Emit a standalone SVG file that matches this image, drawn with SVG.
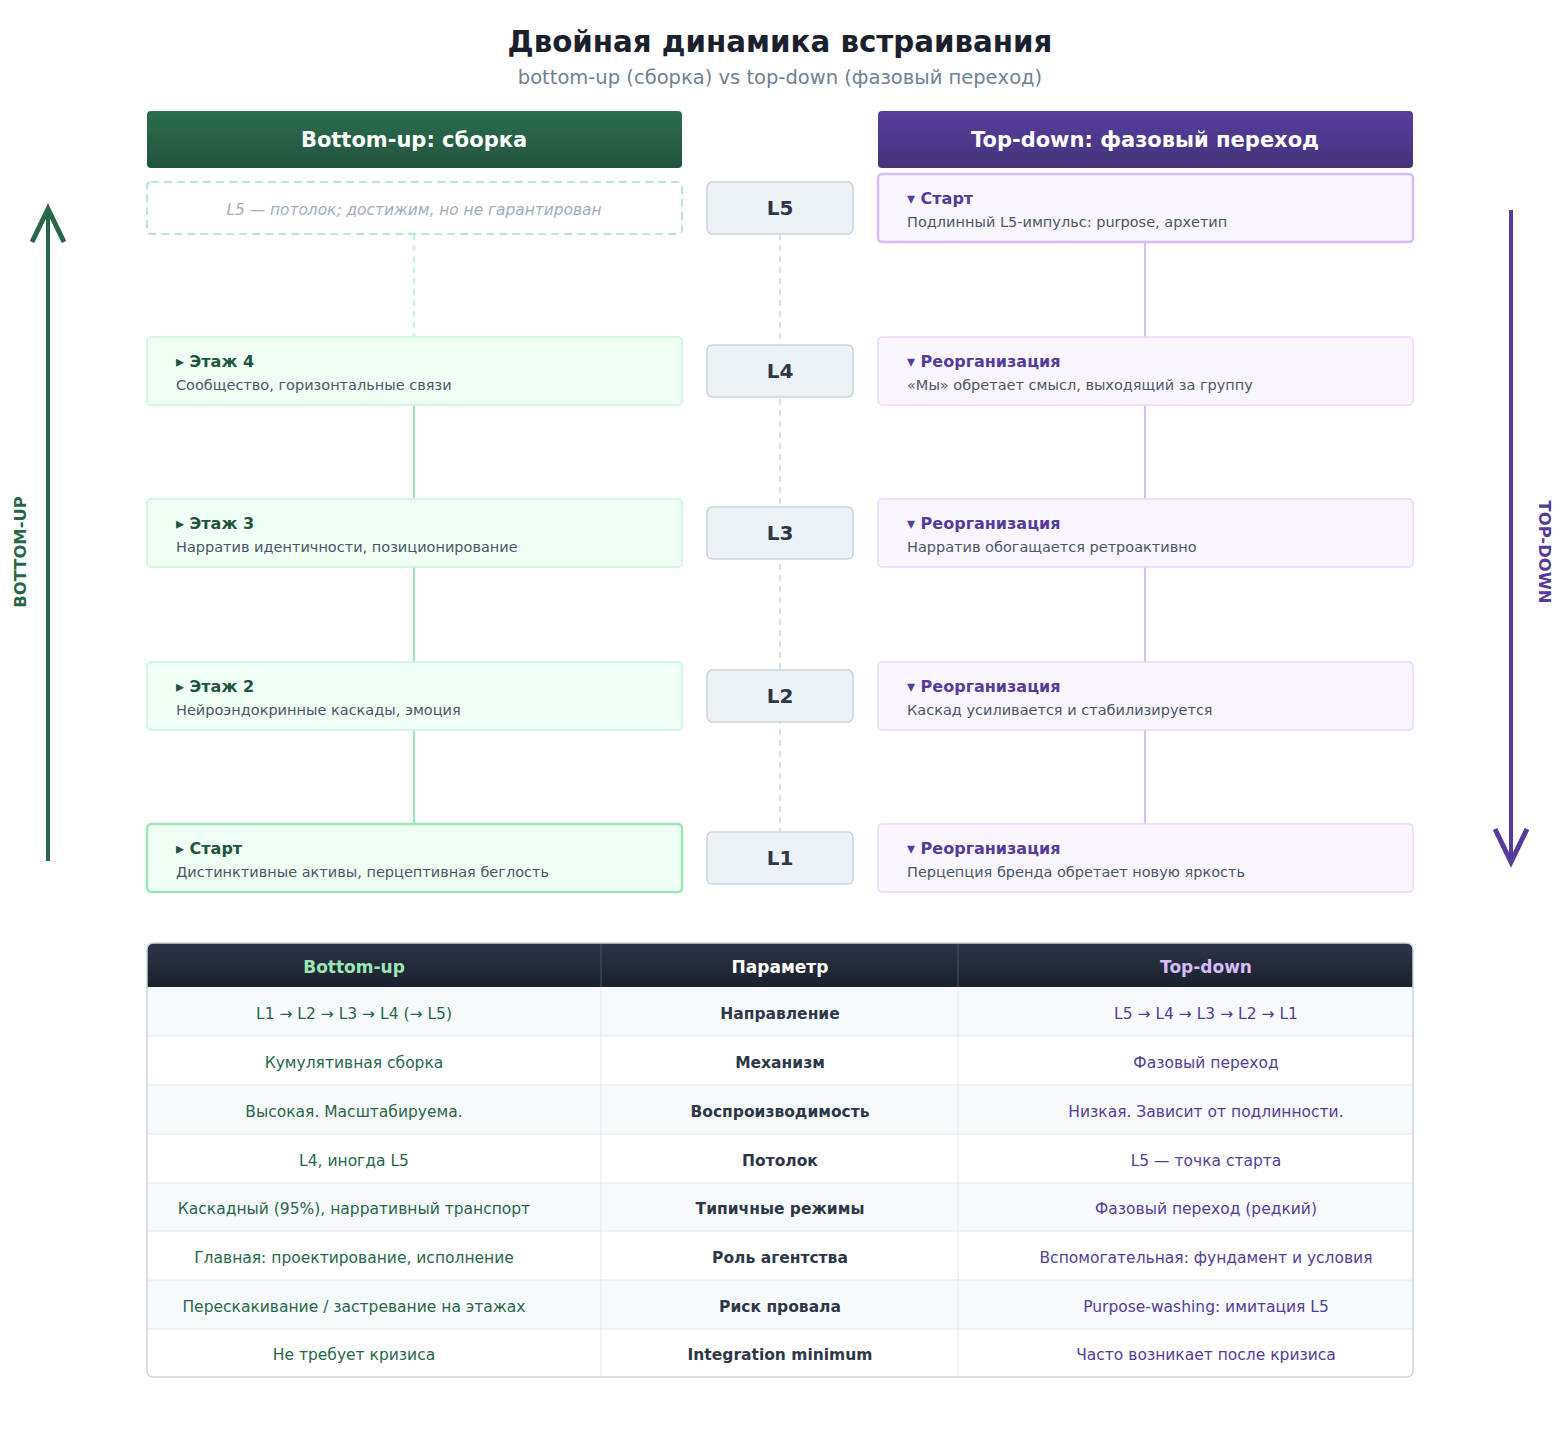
<svg xmlns="http://www.w3.org/2000/svg" width="1560" height="1430" viewBox="0 0 1560 1430">
  <defs>
    <linearGradient id="gGreen" x1="0" y1="0" x2="0" y2="1">
      <stop offset="0" stop-color="#2b6d4f"/>
      <stop offset="1" stop-color="#22543d"/>
    </linearGradient>
    <linearGradient id="gPurple" x1="0" y1="0" x2="0" y2="1">
      <stop offset="0" stop-color="#583e9e"/>
      <stop offset="1" stop-color="#44337a"/>
    </linearGradient>
    <linearGradient id="gDark" x1="0" y1="0" x2="0" y2="1">
      <stop offset="0" stop-color="#2d3748"/>
      <stop offset="1" stop-color="#1a202c"/>
    </linearGradient>
    <clipPath id="tableClip">
      <rect x="147" y="943" width="1266" height="434" rx="6"/>
    </clipPath>
  </defs>
  <style>
    text { font-family: "DejaVu Sans", "Noto Sans", sans-serif; }
    .title { font-size: 29.3px; font-weight: bold; fill: #1a202c; text-anchor: middle; }
    .subtitle { font-size: 19.5px; fill: #718096; text-anchor: middle; }
    .colhead { font-size: 21px; font-weight: bold; fill: #ffffff; text-anchor: middle; }
    .lvl rect { fill: #edf2f7; stroke: #cbd5e0; stroke-width: 1.5; }
    .lvl text { font-size: 20px; font-weight: bold; fill: #2d3748; text-anchor: middle; }
    .bu rect { fill: #f0fff4; stroke: #c6f6d5; stroke-width: 1.5; }
    .bu .start { stroke: #9ae6b4; stroke-width: 2.5; }
    .bu .h { font-size: 16px; font-weight: bold; fill: #22543d; }
    .td rect { fill: #faf5ff; stroke: #e9d8fd; stroke-width: 1.5; }
    .td .start { stroke: #d6bcfa; stroke-width: 2.5; }
    .td .h { font-size: 16px; font-weight: bold; fill: #553c9a; }
    .d { font-size: 14.5px; fill: #4a5568; }
    .ceil { fill: #ffffff; stroke: #9ae6b4; stroke-width: 1.5; stroke-dasharray: 8 5; }
    .ceiltxt { font-size: 15.4px; font-style: italic; fill: #a0aec0; text-anchor: middle; }
    .lnG { stroke: #9ae6b4; stroke-width: 2; fill: none; }
    .lnGd { stroke: #c6f6d5; stroke-width: 2; stroke-dasharray: 6 5; fill: none; }
    .lnP { stroke: #d6bcfa; stroke-width: 2; fill: none; }
    .lnC { stroke: #cbd5e0; stroke-width: 1.5; stroke-dasharray: 6 5; fill: none; }
    .axis { font-size: 16.4px; font-weight: bold; text-anchor: middle; }
    .th { font-size: 17px; font-weight: bold; text-anchor: middle; }
    .tc { font-size: 15.5px; text-anchor: middle; }
    .cl { fill: #276749; }
    .cm { fill: #2d3748; font-weight: bold; }
    .cr { fill: #553c9a; }
    .rowA { fill: #f7fafc; }
    .rowB { fill: #ffffff; }
    .sep { stroke: #e2e8f0; stroke-width: 1; }
  </style>

  <rect width="1560" height="1430" fill="#ffffff"/>

  <!-- Heading -->
  <text class="title" x="780" y="52">Двойная динамика встраивания</text>
  <text class="subtitle" x="780" y="84">bottom-up (сборка) vs top-down (фазовый переход)</text>

  <!-- Column headers -->
  <g id="head-bu">
    <rect x="147" y="111" width="535" height="57" rx="4" fill="url(#gGreen)"/>
    <text class="colhead" x="414" y="147">Bottom-up: сборка</text>
  </g>
  <g id="head-td">
    <rect x="878" y="111" width="535" height="57" rx="4" fill="url(#gPurple)"/>
    <text class="colhead" x="1145" y="147">Top-down: фазовый переход</text>
  </g>

  <!-- Connectors -->
  <g id="connectors">
    <line class="lnC" x1="780" y1="234" x2="780" y2="832"/>
    <line class="lnGd" x1="414" y1="234" x2="414" y2="337"/>
    <line class="lnG" x1="414" y1="405" x2="414" y2="499"/>
    <line class="lnG" x1="414" y1="567" x2="414" y2="662"/>
    <line class="lnG" x1="414" y1="730" x2="414" y2="824"/>
    <line class="lnP" x1="1145" y1="242" x2="1145" y2="337"/>
    <line class="lnP" x1="1145" y1="405" x2="1145" y2="499"/>
    <line class="lnP" x1="1145" y1="567" x2="1145" y2="662"/>
    <line class="lnP" x1="1145" y1="730" x2="1145" y2="824"/>
  </g>

  <!-- Bottom-up axis -->
  <g id="axis-bu">
    <line x1="48" y1="861" x2="48" y2="209" stroke="#276749" stroke-width="4"/>
    <polyline points="32,242 48,209 64,242" fill="none" stroke="#276749" stroke-width="5"/>
    <text class="axis" fill="#276749" transform="translate(26,552) rotate(-90)">BOTTOM-UP</text>
  </g>

  <!-- Top-down axis -->
  <g id="axis-td">
    <line x1="1511" y1="210" x2="1511" y2="862" stroke="#553c9a" stroke-width="4"/>
    <polyline points="1495,829 1511,862 1527,829" fill="none" stroke="#553c9a" stroke-width="5"/>
    <text class="axis" fill="#553c9a" transform="translate(1539,552) rotate(90)">TOP-DOWN</text>
  </g>

  <!-- Ceiling note -->
  <g id="bu-ceiling">
    <rect class="ceil" x="147" y="182" width="535" height="52" rx="4"/>
    <text class="ceiltxt" x="414" y="215">L5 — потолок; достижим, но не гарантирован</text>
  </g>

  <!-- Level markers -->
  <g id="lvl-5" class="lvl"><rect x="707" y="182" width="146" height="52" rx="5"/><text x="780" y="215">L5</text></g>
  <g id="lvl-4" class="lvl"><rect x="707" y="345" width="146" height="52" rx="5"/><text x="780" y="378">L4</text></g>
  <g id="lvl-3" class="lvl"><rect x="707" y="507" width="146" height="52" rx="5"/><text x="780" y="540">L3</text></g>
  <g id="lvl-2" class="lvl"><rect x="707" y="670" width="146" height="52" rx="5"/><text x="780" y="703">L2</text></g>
  <g id="lvl-1" class="lvl"><rect x="707" y="832" width="146" height="52" rx="5"/><text x="780" y="865">L1</text></g>

  <!-- Bottom-up stages -->
  <g id="bu-4" class="bu">
    <rect x="147" y="337" width="535" height="68" rx="4"/>
    <text class="h" x="176" y="367">▸ Этаж 4</text>
    <text class="d" x="176" y="390">Сообщество, горизонтальные связи</text>
  </g>
  <g id="bu-3" class="bu">
    <rect x="147" y="499" width="535" height="68" rx="4"/>
    <text class="h" x="176" y="529">▸ Этаж 3</text>
    <text class="d" x="176" y="552">Нарратив идентичности, позиционирование</text>
  </g>
  <g id="bu-2" class="bu">
    <rect x="147" y="662" width="535" height="68" rx="4"/>
    <text class="h" x="176" y="692">▸ Этаж 2</text>
    <text class="d" x="176" y="715">Нейроэндокринные каскады, эмоция</text>
  </g>
  <g id="bu-1" class="bu">
    <rect class="start" x="147" y="824" width="535" height="68" rx="4"/>
    <text class="h" x="176" y="854">▸ Старт</text>
    <text class="d" x="176" y="877">Дистинктивные активы, перцептивная беглость</text>
  </g>

  <!-- Top-down stages -->
  <g id="td-5" class="td">
    <rect class="start" x="878" y="174" width="535" height="68" rx="4"/>
    <text class="h" x="907" y="204">▾ Старт</text>
    <text class="d" x="907" y="227">Подлинный L5-импульс: purpose, архетип</text>
  </g>
  <g id="td-4" class="td">
    <rect x="878" y="337" width="535" height="68" rx="4"/>
    <text class="h" x="907" y="367">▾ Реорганизация</text>
    <text class="d" x="907" y="390">«Мы» обретает смысл, выходящий за группу</text>
  </g>
  <g id="td-3" class="td">
    <rect x="878" y="499" width="535" height="68" rx="4"/>
    <text class="h" x="907" y="529">▾ Реорганизация</text>
    <text class="d" x="907" y="552">Нарратив обогащается ретроактивно</text>
  </g>
  <g id="td-2" class="td">
    <rect x="878" y="662" width="535" height="68" rx="4"/>
    <text class="h" x="907" y="692">▾ Реорганизация</text>
    <text class="d" x="907" y="715">Каскад усиливается и стабилизируется</text>
  </g>
  <g id="td-1" class="td">
    <rect x="878" y="824" width="535" height="68" rx="4"/>
    <text class="h" x="907" y="854">▾ Реорганизация</text>
    <text class="d" x="907" y="877">Перцепция бренда обретает новую яркость</text>
  </g>

  <!-- Comparison table -->
  <g id="table">
    <g clip-path="url(#tableClip)">
      <rect x="147" y="943" width="1266" height="44" fill="url(#gDark)"/>
      <rect class="rowA" x="147" y="987" width="1266" height="49"/>
      <rect class="rowB" x="147" y="1036" width="1266" height="49"/>
      <rect class="rowA" x="147" y="1085" width="1266" height="49"/>
      <rect class="rowB" x="147" y="1134" width="1266" height="49"/>
      <rect class="rowA" x="147" y="1183" width="1266" height="48"/>
      <rect class="rowB" x="147" y="1231" width="1266" height="49"/>
      <rect class="rowA" x="147" y="1280" width="1266" height="49"/>
      <rect class="rowB" x="147" y="1329" width="1266" height="48"/>
      <line class="sep" x1="147" y1="1036" x2="1413" y2="1036"/>
      <line class="sep" x1="147" y1="1085" x2="1413" y2="1085"/>
      <line class="sep" x1="147" y1="1134" x2="1413" y2="1134"/>
      <line class="sep" x1="147" y1="1183" x2="1413" y2="1183"/>
      <line class="sep" x1="147" y1="1231" x2="1413" y2="1231"/>
      <line class="sep" x1="147" y1="1280" x2="1413" y2="1280"/>
      <line class="sep" x1="147" y1="1329" x2="1413" y2="1329"/>
      <line x1="601" y1="943" x2="601" y2="987" stroke="#4a5568" stroke-width="1"/>
      <line x1="958" y1="943" x2="958" y2="987" stroke="#4a5568" stroke-width="1"/>
      <line class="sep" x1="601" y1="987" x2="601" y2="1377"/>
      <line class="sep" x1="958" y1="987" x2="958" y2="1377"/>
    </g>
    <rect x="147" y="943" width="1266" height="434" rx="6" fill="none" stroke="#cbd5e0" stroke-width="1.5"/>

    <text class="th" x="354" y="973" fill="#9ae6b4">Bottom-up</text>
    <text class="th" x="780" y="973" fill="#ffffff">Параметр</text>
    <text class="th" x="1206" y="973" fill="#d6bcfa">Top-down</text>

    <text class="tc cl" x="354" y="1019">L1 → L2 → L3 → L4 (→ L5)</text>
    <text class="tc cm" x="780" y="1019">Направление</text>
    <text class="tc cr" x="1206" y="1019">L5 → L4 → L3 → L2 → L1</text>

    <text class="tc cl" x="354" y="1068">Кумулятивная сборка</text>
    <text class="tc cm" x="780" y="1068">Механизм</text>
    <text class="tc cr" x="1206" y="1068">Фазовый переход</text>

    <text class="tc cl" x="354" y="1117">Высокая. Масштабируема.</text>
    <text class="tc cm" x="780" y="1117">Воспроизводимость</text>
    <text class="tc cr" x="1206" y="1117">Низкая. Зависит от подлинности.</text>

    <text class="tc cl" x="354" y="1166">L4, иногда L5</text>
    <text class="tc cm" x="780" y="1166">Потолок</text>
    <text class="tc cr" x="1206" y="1166">L5 — точка старта</text>

    <text class="tc cl" x="354" y="1214">Каскадный (95%), нарративный транспорт</text>
    <text class="tc cm" x="780" y="1214">Типичные режимы</text>
    <text class="tc cr" x="1206" y="1214">Фазовый переход (редкий)</text>

    <text class="tc cl" x="354" y="1263">Главная: проектирование, исполнение</text>
    <text class="tc cm" x="780" y="1263">Роль агентства</text>
    <text class="tc cr" x="1206" y="1263">Вспомогательная: фундамент и условия</text>

    <text class="tc cl" x="354" y="1312">Перескакивание / застревание на этажах</text>
    <text class="tc cm" x="780" y="1312">Риск провала</text>
    <text class="tc cr" x="1206" y="1312">Purpose-washing: имитация L5</text>

    <text class="tc cl" x="354" y="1360">Не требует кризиса</text>
    <text class="tc cm" x="780" y="1360">Integration minimum</text>
    <text class="tc cr" x="1206" y="1360">Часто возникает после кризиса</text>
  </g>
</svg>
